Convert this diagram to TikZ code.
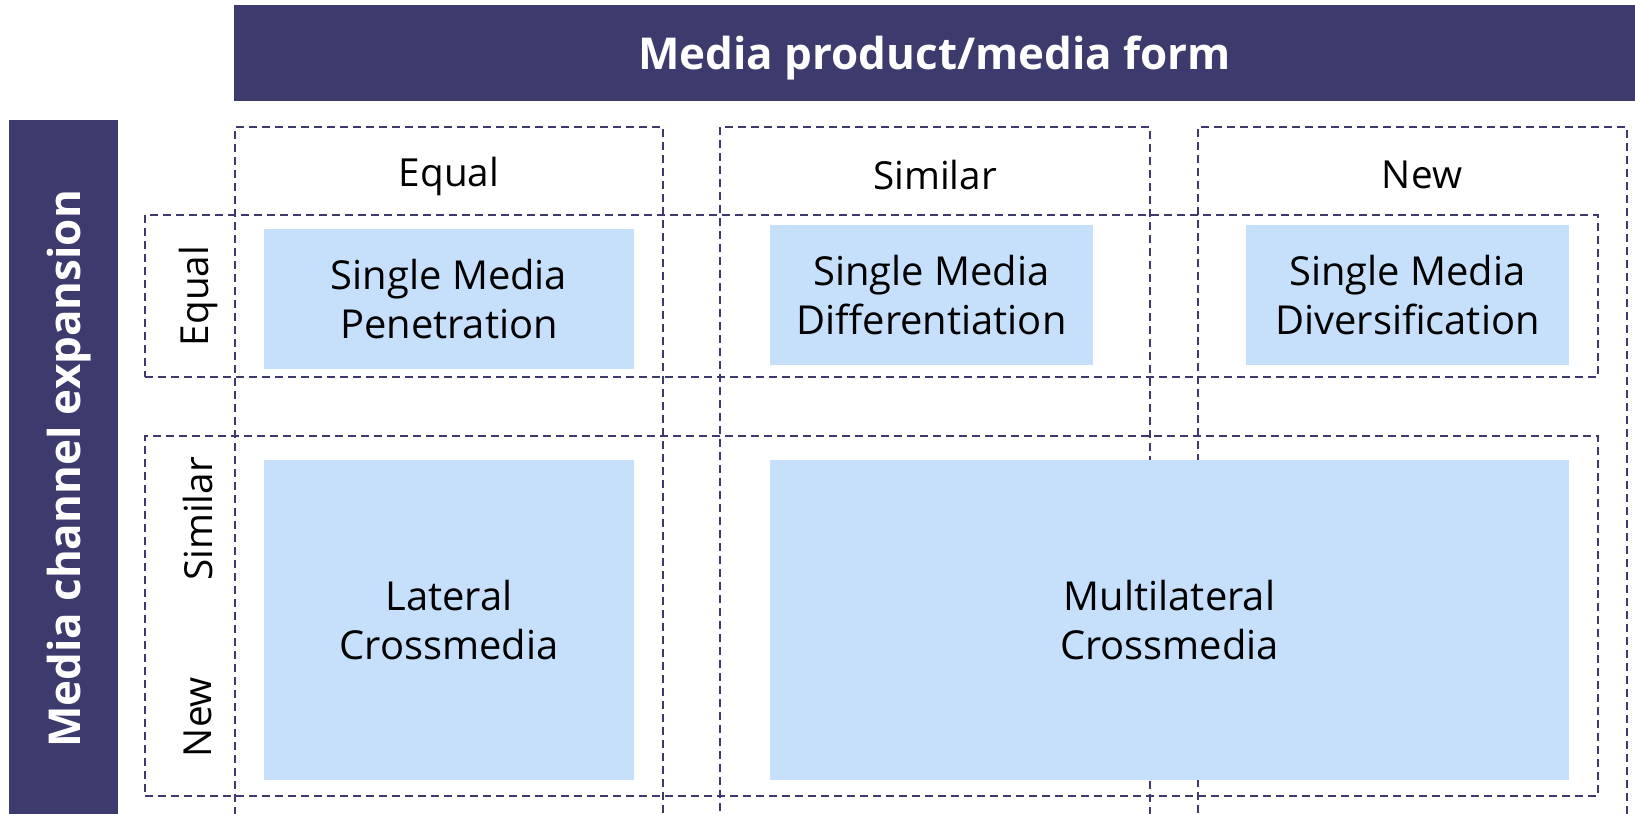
\documentclass[tikz,border=0pt]{standalone}
\usepackage{fontspec}
\setmainfont{Open Sans}
\usetikzlibrary{fit, positioning}
\definecolor{bandNavy}{HTML}{3D3B6E}
\definecolor{cellBlue}{HTML}{C6E0FC}
\tikzset{
  band/.style={fill=bandNavy, text=white, inner sep=0pt, text depth=0pt, font=\fontsize{25}{30}\selectfont\bfseries},
  gridbox/.style={draw=bandNavy, line width=0.8pt, dash pattern=on 4.6pt off 2.8pt, inner sep=0pt},
  cell/.style={fill=cellBlue, inner sep=0pt, align=center, font=\fontsize{22.7}{28}\selectfont},
  axislabel/.style={font=\fontsize{22}{28}\selectfont, inner sep=0pt},
}

\begin{document}
\begin{tikzpicture}[x=0.02cm, y=-0.02cm]
  \useasboundingbox (0,0) rectangle (1635,814);
  % banners
  \node[band, minimum width=28.02cm, minimum height=1.92cm] (formBand) at (934.5,53) {Media product/media form};
  \node[band, rotate=90, minimum width=13.96cm, minimum height=2.18cm] (chanBand) at (63.5,469) {Media channel expansion};
  % dashed columns and rows
  \node[gridbox, fit={(235,127) (663,840)}] (colEqual) {};
  \node[gridbox, fit={(720,127) (1150,840)}] (colSimilar) {};
  \node[gridbox, fit={(1198,127) (1627,840)}] (colNew) {};
  \node[gridbox, fit={(145,215) (1598,377)}] (rowEqual) {};
  \node[gridbox, fit={(145,436) (1598,796)}] (rowNew) {};
  % headers
  \node[axislabel] (hEqual) at (449,176) {Equal};
  \node[axislabel] (hSimilar) at (935,175) {Similar};
  \node[axislabel] (hNew) at (1422,175) {New};
  \node[axislabel, rotate=90] (vEqual) at (198,296) {Equal};
  \node[axislabel, rotate=90] (vSimilar) at (198,519) {Similar};
  \node[axislabel, rotate=90] (vNew) at (198,717) {New};
  % strategy cells
  \node[cell, minimum width=7.4cm, minimum height=2.8cm] (penetration) at (449,299) {Single Media\\Penetration};
  \node[cell, minimum width=6.46cm, minimum height=2.8cm] (differentiation) at (931.5,295) {Single Media\\Differentiation};
  \node[cell, minimum width=6.46cm, minimum height=2.8cm] (diversification) at (1407.5,295) {Single Media\\Diversification};
  \node[cell, minimum width=7.4cm, minimum height=6.4cm] (lateral) at (449,620) {Lateral\\Crossmedia};
  \node[cell, minimum width=15.98cm, minimum height=6.4cm] (multilateral) at (1169.5,620) {Multilateral\\Crossmedia};
\end{tikzpicture}
\end{document}
